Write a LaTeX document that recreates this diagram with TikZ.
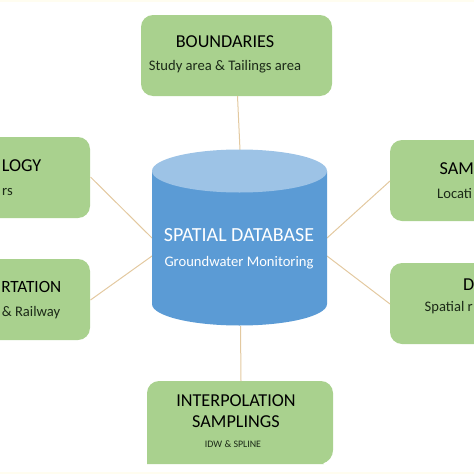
\documentclass[tikz,border=0pt]{standalone}
\usepackage{fontspec}
\setmainfont{Carlito}
\definecolor{boxgreen}{HTML}{A9D18E}
\definecolor{cylbody}{HTML}{5B9BD5}
\definecolor{cyltop}{HTML}{9DC3E6}
\definecolor{linktan}{HTML}{E3C9A0}
\definecolor{edgecream}{HTML}{FFFDF0}
\definecolor{inktext}{HTML}{1C2A18}
\tikzset{
  topicbox/.style={fill=boxgreen,rounded corners=12pt,minimum height=81pt,inner sep=0pt,text width=0pt},
  headtext/.style={font=\fontsize{18.2}{20}\selectfont,text=black,inner sep=0pt},
  subtext/.style={font=\fontsize{14.6}{16}\selectfont,text=inktext,inner sep=0pt},
  dbtext/.style={text=white,inner sep=0pt},
  link/.style={draw=linktan,line width=1pt}
}
\begin{document}
\begin{tikzpicture}[x=1pt,y=-1pt]
\useasboundingbox (0,0) rectangle (474,474);
\clip (0,0) rectangle (474,474);
\fill[edgecream] (0,0) rectangle (474,1.5);
\fill[edgecream] (0,471.5) rectangle (474,474);

% boxes
\node[topicbox,minimum width=191pt] (bnd) at (236.5,55.5) {};
\node[topicbox,minimum width=191pt] (geo) at (-5.5,177.5) {};
\node[topicbox,minimum width=191pt] (trn) at (-5.5,299.5) {};
\node[topicbox,minimum width=191pt] (sam) at (485.5,180.5) {};
\node[topicbox,minimum width=191pt] (dat) at (485.5,303.5) {};
\fill[boxgreen] (147,464) -- (147,393) arc[start angle=180,end angle=270,radius=12] -- (321,381)
  arc[start angle=270,end angle=360,radius=12] -- (333,450) arc[start angle=0,end angle=75,radius=14] -- (324,464) -- cycle;

% connector ends
\coordinate (bndEnd) at (237.5,96);
\coordinate (cylTop) at (240,150);
\coordinate (geoEnd) at (90.5,177);
\coordinate (cylLU) at (152,238);
\coordinate (trnEnd) at (90.5,300);
\coordinate (cylLD) at (152,256);
\coordinate (samEnd) at (390,181);
\coordinate (cylRU) at (327,238);
\coordinate (datEnd) at (390,304);
\coordinate (cylRD) at (327,256);
\coordinate (cylBot) at (240.5,326);
\coordinate (intEnd) at (241,381);
\foreach \a/\b in {bndEnd/cylTop,geoEnd/cylLU,trnEnd/cylLD,samEnd/cylRU,datEnd/cylRD,cylBot/intEnd}
  \draw[link] (\a) -- (\b);

% cylinder
\fill[cylbody] (152,171) -- (152,304) arc[start angle=180,end angle=0,x radius=87.5,y radius=21.5] -- (327,171) -- cycle;
\fill[cyltop] (239.5,171) ellipse[x radius=87.5,y radius=21.5];

% texts
\node[headtext] (t1) at (225,41.5) {BOUNDARIES};
\node[subtext] (s1) at (225,67) {Study area \& Tailings area};
\node[headtext,anchor=east] (t2) at (41.5,166) {LOGY};
\node[subtext,anchor=east] (s2) at (13,192) {rs};
\node[headtext,anchor=east,font=\fontsize{17.2}{20}\selectfont] (t3) at (61.5,287) {RTATION};
\node[subtext,anchor=east] (s3) at (60.5,313) {\& Railway};
\node[headtext,anchor=west] (t4) at (439.5,169) {SAM};
\node[subtext,anchor=west] (s4) at (437,194) {Locati};
\node[headtext,anchor=west] (t5) at (463,285) {D};
\node[subtext,anchor=west] (s5) at (424.5,308) {Spatial r};
\node[dbtext,font=\fontsize{20}{22}\selectfont] (d1) at (239,235) {SPATIAL DATABASE};
\node[dbtext,font=\fontsize{14.6}{16}\selectfont] (d2) at (239,263) {Groundwater Monitoring};
\node[headtext] (t6) at (236,401) {INTERPOLATION};
\node[headtext] (t7) at (236,422) {SAMPLINGS};
\node[inner sep=0pt,text=inktext,font=\fontsize{9.9}{11}\selectfont] (s6) at (233,444) {IDW \& SPLINE};
\end{tikzpicture}
\end{document}
